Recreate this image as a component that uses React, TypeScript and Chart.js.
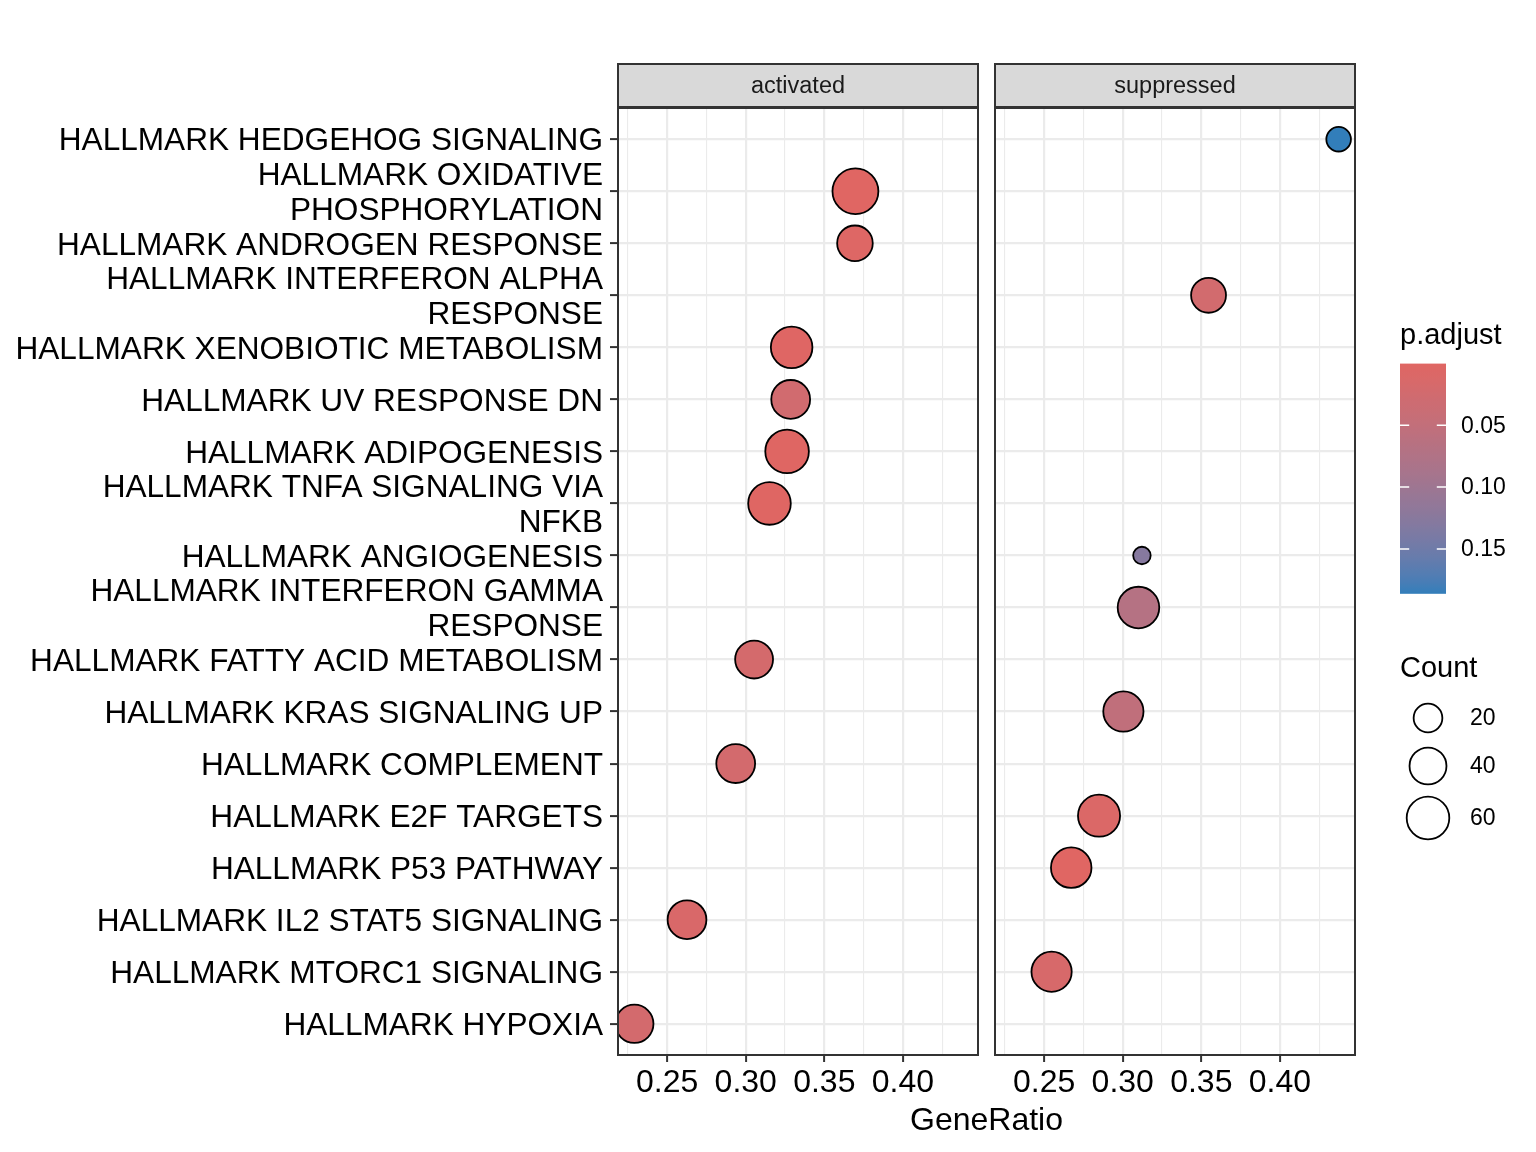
import { useEffect, useRef } from 'react';
import { Chart, registerables } from 'chart.js';

Chart.register(...registerables);

const FONT = '"Liberation Sans", Arial, Helvetica, sans-serif';

// Row order of the y axis, top to bottom
const pathways = [
  'HALLMARK HEDGEHOG SIGNALING',
  'HALLMARK OXIDATIVE PHOSPHORYLATION',
  'HALLMARK ANDROGEN RESPONSE',
  'HALLMARK INTERFERON ALPHA RESPONSE',
  'HALLMARK XENOBIOTIC METABOLISM',
  'HALLMARK UV RESPONSE DN',
  'HALLMARK ADIPOGENESIS',
  'HALLMARK TNFA SIGNALING VIA NFKB',
  'HALLMARK ANGIOGENESIS',
  'HALLMARK INTERFERON GAMMA RESPONSE',
  'HALLMARK FATTY ACID METABOLISM',
  'HALLMARK KRAS SIGNALING UP',
  'HALLMARK COMPLEMENT',
  'HALLMARK E2F TARGETS',
  'HALLMARK P53 PATHWAY',
  'HALLMARK IL2 STAT5 SIGNALING',
  'HALLMARK MTORC1 SIGNALING',
  'HALLMARK HYPOXIA',
];

// "activated" facet
const activatedTerms = [
  'HALLMARK OXIDATIVE PHOSPHORYLATION',
  'HALLMARK ANDROGEN RESPONSE',
  'HALLMARK XENOBIOTIC METABOLISM',
  'HALLMARK UV RESPONSE DN',
  'HALLMARK ADIPOGENESIS',
  'HALLMARK TNFA SIGNALING VIA NFKB',
  'HALLMARK FATTY ACID METABOLISM',
  'HALLMARK COMPLEMENT',
  'HALLMARK IL2 STAT5 SIGNALING',
  'HALLMARK HYPOXIA',
];
const activatedGeneRatio = [0.3698, 0.3695, 0.3292, 0.3286, 0.3263, 0.3151, 0.3053, 0.2936, 0.2626, 0.2291];
const activatedCount = [74, 36, 56, 46, 64, 60, 43, 46, 46, 44];
const activatedPAdjust = [0.0001, 0.004, 0.002, 0.026, 0.001, 0.001, 0.02, 0.022, 0.012, 0.022];

// "suppressed" facet
const suppressedTerms = [
  'HALLMARK HEDGEHOG SIGNALING',
  'HALLMARK INTERFERON ALPHA RESPONSE',
  'HALLMARK ANGIOGENESIS',
  'HALLMARK INTERFERON GAMMA RESPONSE',
  'HALLMARK KRAS SIGNALING UP',
  'HALLMARK E2F TARGETS',
  'HALLMARK P53 PATHWAY',
  'HALLMARK MTORC1 SIGNALING',
];
const suppressedGeneRatio = [0.4374, 0.3546, 0.3122, 0.31, 0.3004, 0.2849, 0.2672, 0.2547];
const suppressedCount = [14, 34, 10, 56, 51, 58, 52, 51];
const suppressedPAdjust = [0.1863, 0.024, 0.128, 0.068, 0.052, 0.008, 0.0008, 0.015];

// Axis and legend breaks
const xMajorTicks = [0.25, 0.3, 0.35, 0.4];
const xMinorTicks = [0.225, 0.275, 0.325, 0.375, 0.425];
const pAdjustBreaks = [0.05, 0.1, 0.15];
const countBreaks = [20, 40, 60];

// ---- scales shared by both facets ----
const allRatios = [...activatedGeneRatio, ...suppressedGeneRatio];
const ratioLo = Math.min(...allRatios);
const ratioHi = Math.max(...allRatios);
const ratioPad = (ratioHi - ratioLo) * 0.05;
const X_MIN = ratioLo - ratioPad;
const X_MAX = ratioHi + ratioPad;

const allCounts = [...activatedCount, ...suppressedCount];
const countLo = Math.min(...allCounts);
const countHi = Math.max(...allCounts);
const DIAM_MIN = 19.3;
const DIAM_MAX = 47.7;
const POINT_BORDER = 1.8;
function radiusFor(count: number): number {
  const t = (count - countLo) / (countHi - countLo);
  const d = DIAM_MIN + (DIAM_MAX - DIAM_MIN) * Math.sqrt(Math.max(0, t));
  return d / 2 - POINT_BORDER / 2;
}

const allP = [...activatedPAdjust, ...suppressedPAdjust];
const pLo = Math.min(...allP);
const pHi = Math.max(...allP);
const LOW_COLOR = '#e06663';
const HIGH_COLOR = '#327eba';

const WHITE_REF = [0.95047, 1, 1.08883];
function hexToRgb(hex: string): number[] {
  const n = parseInt(hex.slice(1), 16);
  return [(n >> 16) & 255, (n >> 8) & 255, n & 255];
}
const toLinear = (c: number) => {
  const v = c / 255;
  return v <= 0.04045 ? v / 12.92 : Math.pow((v + 0.055) / 1.055, 2.4);
};
const fromLinear = (v: number) => {
  const c = v <= 0.0031308 ? 12.92 * v : 1.055 * Math.pow(v, 1 / 2.4) - 0.055;
  return Math.round(Math.min(1, Math.max(0, c)) * 255);
};
function hexToLab(hex: string): number[] {
  const [r, g, b] = hexToRgb(hex).map(toLinear);
  const x = (0.4124564 * r + 0.3575761 * g + 0.1804375 * b) / WHITE_REF[0];
  const y = (0.2126729 * r + 0.7151522 * g + 0.072175 * b) / WHITE_REF[1];
  const z = (0.0193339 * r + 0.119192 * g + 0.9503041 * b) / WHITE_REF[2];
  const f = (t: number) => (t > 216 / 24389 ? Math.cbrt(t) : ((24389 / 27) * t + 16) / 116);
  const fx = f(x), fy = f(y), fz = f(z);
  return [116 * fy - 16, 500 * (fx - fy), 200 * (fy - fz)];
}
function labToCss(lab: number[]): string {
  const [L, a, b] = lab;
  const fy = (L + 16) / 116;
  const fx = fy + a / 500;
  const fz = fy - b / 200;
  const inv = (t: number) => (t * t * t > 216 / 24389 ? t * t * t : (116 * t - 16) / (24389 / 27));
  const x = inv(fx) * WHITE_REF[0];
  const y = inv(fy) * WHITE_REF[1];
  const z = inv(fz) * WHITE_REF[2];
  const r = 3.2404542 * x - 1.5371385 * y - 0.4985314 * z;
  const g = -0.969266 * x + 1.8760108 * y + 0.041556 * z;
  const bl = 0.0556434 * x - 0.2040259 * y + 1.0572252 * z;
  return `rgb(${fromLinear(r)}, ${fromLinear(g)}, ${fromLinear(bl)})`;
}
const LAB_LOW = hexToLab(LOW_COLOR);
const LAB_HIGH = hexToLab(HIGH_COLOR);
function rampColor(t: number): string {
  const u = Math.min(1, Math.max(0, t));
  return labToCss(LAB_LOW.map((v, i) => v + (LAB_HIGH[i] - v) * u));
}
function colorFor(p: number): string {
  return rampColor((p - pLo) / (pHi - pLo));
}

function wrapLabel(text: string, width: number): string | string[] {
  const words = text.split(' ');
  const lines: string[] = [];
  let cur = '';
  for (const w of words) {
    if (!cur) cur = w;
    else if ((cur + ' ' + w).length <= width) cur += ' ' + w;
    else {
      lines.push(cur);
      cur = w;
    }
  }
  if (cur) lines.push(cur);
  return lines.length === 1 ? lines[0] : lines;
}

const isMajor = (v: number) => xMajorTicks.some((m) => Math.abs(m - v) < 1e-9);

// ---- layout (page pixels) ----
const PAGE_W = 1536;
const PAGE_H = 1152;
const LEFT_CANVAS_W = 985;
const RIGHT_CANVAS_X = 985;
const PANEL_TOP = 108;
const PANEL_BOTTOM = 1055;
const STRIP_TOP = 64;
const LEFT_PANEL = [618, 978];
const RIGHT_PANEL = [995, 1355];

function drawLegend(ctx: CanvasRenderingContext2D, offsetX: number) {
  const X = (x: number) => x - offsetX;
  ctx.save();
  ctx.fillStyle = '#000';
  ctx.textAlign = 'left';
  ctx.textBaseline = 'alphabetic';
  ctx.font = `29px ${FONT}`;
  ctx.fillText('p.adjust', X(1400), 344);

  // colour bar
  const barL = X(1400), barW = 46, barT = 363.6, barB = 593.8;
  const grad = ctx.createLinearGradient(0, barT, 0, barB);
  const n = 60;
  for (let i = 0; i <= n; i++) grad.addColorStop(i / n, rampColor(i / n));
  ctx.fillStyle = grad;
  ctx.fillRect(barL, barT, barW, barB - barT);
  ctx.strokeStyle = '#ffffff';
  ctx.lineWidth = 1.5;
  ctx.font = `23px ${FONT}`;
  ctx.textBaseline = 'middle';
  for (const v of pAdjustBreaks) {
    const y = barT + ((v - pLo) / (pHi - pLo)) * (barB - barT);
    ctx.beginPath();
    ctx.moveTo(barL, y);
    ctx.lineTo(barL + barW / 5, y);
    ctx.moveTo(barL + barW, y);
    ctx.lineTo(barL + barW - barW / 5, y);
    ctx.stroke();
    ctx.fillStyle = '#000';
    ctx.fillText(v.toFixed(2), X(1461), y + 1);
  }

  // size legend
  ctx.textBaseline = 'alphabetic';
  ctx.font = `29px ${FONT}`;
  ctx.fillText('Count', X(1400), 677);
  const keyY = [718, 766, 818];
  ctx.font = `23px ${FONT}`;
  ctx.textBaseline = 'middle';
  countBreaks.forEach((c, i) => {
    ctx.beginPath();
    ctx.arc(X(1428), keyY[i], radiusFor(c), 0, Math.PI * 2);
    ctx.strokeStyle = '#000';
    ctx.lineWidth = POINT_BORDER;
    ctx.stroke();
    ctx.fillStyle = '#000';
    ctx.fillText(String(c), X(1470), keyY[i] + 1);
  });
  ctx.restore();
}

function panelPlugin(strip: string, legendOffset: number | null) {
  return {
    id: 'panelDecor',
    beforeDraw(chart: any) {
      const ctx = chart.ctx;
      ctx.save();
      ctx.fillStyle = '#ffffff';
      ctx.fillRect(0, 0, chart.width, chart.height);
      ctx.restore();
    },
    afterDatasetsDraw(chart: any) {
      const { ctx, chartArea: a } = chart;
      ctx.save();
      ctx.strokeStyle = '#333333';
      ctx.lineWidth = 2;
      ctx.strokeRect(a.left, a.top, a.right - a.left, a.bottom - a.top);
      ctx.fillStyle = '#D9D9D9';
      const h = a.top - STRIP_TOP - 1;
      ctx.fillRect(a.left, STRIP_TOP, a.right - a.left, h);
      ctx.strokeRect(a.left, STRIP_TOP, a.right - a.left, h);
      ctx.fillStyle = '#1A1A1A';
      ctx.font = `23.5px ${FONT}`;
      ctx.textAlign = 'center';
      ctx.textBaseline = 'middle';
      ctx.fillText(strip, (a.left + a.right) / 2, STRIP_TOP + h / 2 + 1.5);
      ctx.restore();
      if (legendOffset !== null) drawLegend(ctx, legendOffset);
    },
  };
}

function makeConfig(
  strip: string,
  terms: string[],
  ratios: number[],
  counts: number[],
  padj: number[],
  showY: boolean,
  padding: { left: number; right: number },
  legendOffset: number | null,
): any {
  const xHeight = PAGE_H - PANEL_BOTTOM;
  return {
    type: 'bubble',
    data: {
      datasets: [
        {
          label: strip,
          data: terms.map((t, i) => ({ x: ratios[i], y: pathways.indexOf(t), r: radiusFor(counts[i]) })),
          backgroundColor: padj.map(colorFor),
          borderColor: '#000000',
          borderWidth: POINT_BORDER,
          hoverBorderWidth: POINT_BORDER,
          clip: 0,
        },
      ],
    },
    options: {
      responsive: false,
      animation: false,
      events: [],
      layout: {
        autoPadding: false,
        padding: { left: padding.left, right: padding.right, top: PANEL_TOP, bottom: 0 },
      },
      plugins: { legend: { display: false }, tooltip: { enabled: false } },
      scales: {
        x: {
          type: 'linear',
          min: X_MIN,
          max: X_MAX,
          afterBuildTicks: (s: any) => {
            s.ticks = [...xMinorTicks, ...xMajorTicks].sort((p, q) => p - q).map((v) => ({ value: v }));
          },
          afterFit: (s: any) => {
            s.height = xHeight;
          },
          border: { display: false },
          grid: {
            color: '#EBEBEB',
            lineWidth: (c: any) => (c.tick && isMajor(c.tick.value) ? 2.2 : 1.1),
            tickColor: (c: any) => (c.tick && isMajor(c.tick.value) ? '#333333' : 'rgba(0,0,0,0)'),
            tickLength: 7,
            tickWidth: 2,
          },
          ticks: {
            autoSkip: false,
            maxRotation: 0,
            padding: 2,
            color: '#000000',
            font: { family: FONT, size: 32, lineHeight: 1.2 },
            callback: (v: number) => (isMajor(v) ? v.toFixed(2) : ''),
          },
        },
        y: {
          type: 'linear',
          min: -0.6,
          max: pathways.length - 1 + 0.6,
          reverse: true,
          afterBuildTicks: (s: any) => {
            s.ticks = pathways.map((_, i) => ({ value: i }));
          },
          afterFit: (s: any) => {
            s.width = showY ? LEFT_PANEL[0] - padding.left : 0;
          },
          border: { display: false },
          grid: {
            color: '#EBEBEB',
            lineWidth: 2.2,
            drawTicks: showY,
            tickColor: '#333333',
            tickLength: 8,
            tickWidth: 2,
          },
          ticks: {
            display: showY,
            autoSkip: false,
            padding: 7,
            labelOffset: 2.5,
            color: '#000000',
            font: { family: FONT, size: 31.6, lineHeight: 1.1 },
            callback: (v: number) => wrapLabel(pathways[Math.round(v)] ?? '', 30),
          },
        },
      },
    },
    plugins: [panelPlugin(strip, legendOffset)],
  };
}

export default function App() {
  const leftRef = useRef<HTMLCanvasElement>(null);
  const rightRef = useRef<HTMLCanvasElement>(null);

  useEffect(() => {
    const leftChart = new Chart(
      leftRef.current!,
      makeConfig(
        'activated',
        activatedTerms,
        activatedGeneRatio,
        activatedCount,
        activatedPAdjust,
        true,
        { left: 0, right: LEFT_CANVAS_W - LEFT_PANEL[1] },
        null,
      ),
    );
    const rightChart = new Chart(
      rightRef.current!,
      makeConfig(
        'suppressed',
        suppressedTerms,
        suppressedGeneRatio,
        suppressedCount,
        suppressedPAdjust,
        false,
        { left: RIGHT_PANEL[0] - RIGHT_CANVAS_X, right: PAGE_W - RIGHT_PANEL[1] },
        RIGHT_CANVAS_X,
      ),
    );
    return () => {
      leftChart.destroy();
      rightChart.destroy();
    };
  }, []);

  return (
    <div style={{ position: 'absolute', left: 0, top: 0, width: PAGE_W, height: PAGE_H, background: '#fff' }}>
      <canvas
        ref={leftRef}
        width={LEFT_CANVAS_W}
        height={PAGE_H}
        style={{ position: 'absolute', left: 0, top: 0, width: LEFT_CANVAS_W, height: PAGE_H }}
      />
      <canvas
        ref={rightRef}
        width={PAGE_W - RIGHT_CANVAS_X}
        height={PAGE_H}
        style={{ position: 'absolute', left: RIGHT_CANVAS_X, top: 0, width: PAGE_W - RIGHT_CANVAS_X, height: PAGE_H }}
      />
      <div
        style={{
          position: 'absolute',
          left: (LEFT_PANEL[0] + RIGHT_PANEL[1]) / 2 - 200,
          width: 400,
          top: 1103,
          textAlign: 'center',
          fontFamily: FONT,
          fontSize: 32,
          lineHeight: '32px',
          color: '#000',
        }}
      >
        GeneRatio
      </div>
    </div>
  );
}
